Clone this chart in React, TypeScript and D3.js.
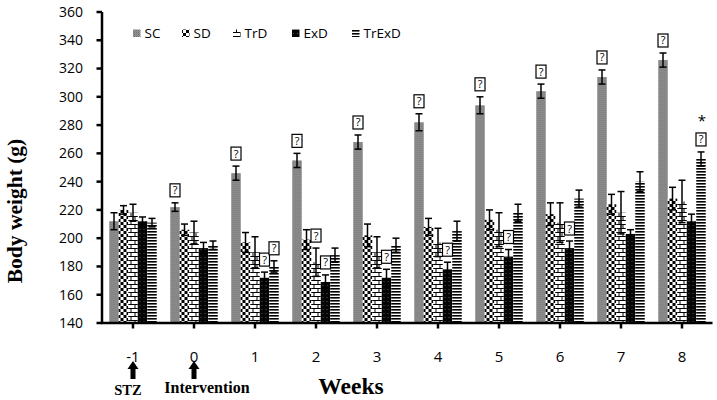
import React from "react";
import * as d3 from "d3";

const weeks = ["-1", "0", "1", "2", "3", "4", "5", "6", "7", "8"];
const seriesNames = ["SC", "SD", "TrD", "ExD", "TrExD"];

const SC = [212, 222, 246, 255, 268, 282, 294, 304, 314, 326];
const SC_err = [6, 3, 5, 5, 5, 6, 6, 5, 5, 5];
const SD = [220, 206, 197, 199, 202, 208, 213, 217, 224, 228];
const SD_err = [3, 4, 7, 7, 8, 6, 7, 8, 7, 8];
const TrD = [218, 204, 190, 183, 190, 197, 206, 211, 218, 226];
const TrD_err = [6, 8, 11, 10, 11, 10, 12, 14, 15, 15];
const ExD = [212, 193, 172, 169, 172, 178, 187, 193, 203, 212];
const ExD_err = [3, 4, 4, 5, 6, 5, 5, 5, 3, 5];
const TrExD = [211, 195, 180, 188, 195, 205, 218, 228, 240, 256];
const TrExD_err = [3, 3, 4, 5, 5, 7, 6, 6, 7, 5];

const yTicks = [140, 160, 180, 200, 220, 240, 260, 280, 300, 320, 340, 360];

// which bars carry a significance mark (boxed "?")
const sigMarks = [
  [],
  ["SC"],
  ["SC", "ExD", "TrExD"],
  ["SC", "TrD", "ExD"],
  ["SC", "ExD"],
  ["SC", "ExD"],
  ["SC", "ExD"],
  ["SC", "ExD"],
  ["SC"],
  ["SC", "TrExD"],
];
const starMarks = [{ week: "8", series: "TrExD" }];

const values: Record<string, number[]> = { SC, SD, TrD, ExD, TrExD };
const errors: Record<string, number[]> = {
  SC: SC_err,
  SD: SD_err,
  TrD: TrD_err,
  ExD: ExD_err,
  TrExD: TrExD_err,
};

const W = 717;
const H = 400;
const x = d3.scaleBand<string>().domain(weeks).range([102.5, 712.5]).padding(0);
const xs = d3
  .scaleBand<string>()
  .domain(seriesNames)
  .range([6.75, x.bandwidth() - 6.75]);
const y = d3.scaleLinear().domain([140, 360]).range([323, 12]);

const fills: Record<string, string> = {
  SC: "url(#pSC)",
  SD: "url(#pSD)",
  TrD: "url(#pTrD)",
  ExD: "url(#pExD)",
  TrExD: "url(#pTrExD)",
};

const sans = "'Open Sans', 'Liberation Sans', sans-serif";
const serif = "'Liberation Serif', 'DejaVu Serif', serif";

function Arrow({ cx }: { cx: number }) {
  const p = d3.path();
  p.moveTo(cx, 361);
  p.lineTo(cx + 5.5, 369);
  p.lineTo(cx + 2.5, 369);
  p.lineTo(cx + 2.5, 379);
  p.lineTo(cx - 2.5, 379);
  p.lineTo(cx - 2.5, 369);
  p.lineTo(cx - 5.5, 369);
  p.closePath();
  return <path d={p.toString()} fill="#000" />;
}

export default function App() {
  const legendItems = [
    { name: "SC", x: 133 },
    { name: "SD", x: 182 },
    { name: "TrD", x: 233 },
    { name: "ExD", x: 292 },
    { name: "TrExD", x: 352 },
  ];

  return (
    <svg
      width={W}
      height={H}
      style={{ position: "absolute", left: 0, top: 0, background: "#fff" }}
    >
      <defs>
        <pattern id="pSC" width="2" height="2" patternUnits="userSpaceOnUse">
          <rect width="2" height="2" fill="#9a9a9a" />
          <rect width="1" height="1" fill="#6e6e6e" />
          <rect x="1" y="1" width="1" height="1" fill="#7a7a7a" />
        </pattern>
        <pattern id="pSD" width="6" height="6" patternUnits="userSpaceOnUse">
          <rect width="6" height="6" fill="#fff" />
          <rect width="3" height="3" fill="#000" />
          <rect x="3" y="3" width="3" height="3" fill="#000" />
        </pattern>
        <pattern id="pTrD" width="8" height="8" patternUnits="userSpaceOnUse">
          <rect width="8" height="8" fill="#fff" />
          <rect y="0" width="8" height="1" fill="#000" />
          <rect y="4" width="8" height="1" fill="#000" />
          <rect x="0" y="0" width="1" height="4" fill="#000" />
          <rect x="4" y="4" width="1" height="4" fill="#000" />
        </pattern>
        <pattern id="pExD" width="4" height="4" patternUnits="userSpaceOnUse">
          <rect width="4" height="4" fill="#050505" />
          <rect x="1" y="1" width="1" height="1" fill="#555" />
        </pattern>
        <pattern id="pTrExD" width="3" height="3" patternUnits="userSpaceOnUse">
          <rect width="3" height="3" fill="#fff" />
          <rect width="3" height="1.6" fill="#000" />
        </pattern>
      </defs>

      {/* bars */}
      {weeks.map((w, i) => (
        <g key={w} transform={`translate(${x(w)},0)`}>
          {seriesNames.map((s) => (
            <rect
              key={s}
              x={xs(s)}
              y={y(values[s][i])}
              width={xs.bandwidth()}
              height={y(140) - y(values[s][i])}
              fill={fills[s]}
            />
          ))}
        </g>
      ))}

      {/* error bars */}
      {weeks.map((w, i) => (
        <g key={"e" + w}>
          {seriesNames.map((s) => {
            const cx = (x(w) as number) + (xs(s) as number) + xs.bandwidth() / 2;
            const v = values[s][i];
            const e = errors[s][i];
            return (
              <g key={s} stroke="#000" strokeWidth={1.5}>
                <line x1={cx} x2={cx} y1={y(v + e)} y2={y(v - e)} />
                <line x1={cx - 3.5} x2={cx + 3.5} y1={y(v + e)} y2={y(v + e)} />
                <line x1={cx - 3.5} x2={cx + 3.5} y1={y(v - e)} y2={y(v - e)} />
              </g>
            );
          })}
        </g>
      ))}

      {/* significance marks */}
      {weeks.map((w, i) => (
        <g key={"m" + w}>
          {sigMarks[i].map((s) => {
            const cx = (x(w) as number) + (xs(s) as number) + xs.bandwidth() / 2;
            const top = y(values[s][i] + errors[s][i]);
            const bottom = top - 6;
            return (
              <g key={s}>
                <rect
                  x={cx - 5}
                  y={bottom - 13}
                  width={10}
                  height={13}
                  fill="#fff"
                  stroke="#000"
                  strokeWidth={1.2}
                />
                <text
                  x={cx}
                  y={bottom - 2.5}
                  textAnchor="middle"
                  fontFamily={sans}
                  fontSize={11}
                  fill="#000"
                >
                  ?
                </text>
              </g>
            );
          })}
        </g>
      ))}
      {starMarks.map((m) => {
        const i = weeks.indexOf(m.week);
        const cx = (x(m.week) as number) + (xs(m.series) as number) + xs.bandwidth() / 2;
        const top = y(values[m.series][i] + errors[m.series][i]) - 6 - 13;
        return (
          <text
            key={m.week}
            x={cx + 1}
            y={top - 7}
            textAnchor="middle"
            fontFamily={sans}
            fontSize={15}
            fill="#000"
          >
            *
          </text>
        );
      })}

      {/* y axis */}
      <line x1={102} x2={102} y1={y(360)} y2={y(140) + 1} stroke="#000" strokeWidth={2.5} />
      {yTicks.map((t) => (
        <g key={t}>
          <line x1={96.5} x2={102} y1={y(t)} y2={y(t)} stroke="#000" strokeWidth={2.5} />
          <text
            x={83}
            y={y(t)}
            dy="0.35em"
            textAnchor="end"
            fontFamily={sans}
            fontSize={14}
            fill="#000"
          >
            {t}
          </text>
        </g>
      ))}

      {/* x axis */}
      <line x1={101} x2={712.5} y1={y(140)} y2={y(140)} stroke="#000" strokeWidth={2.5} />
      {weeks.map((w) => {
        const cx = (x(w) as number) + x.bandwidth() / 2;
        return (
          <g key={"t" + w}>
            <line x1={cx} x2={cx} y1={y(140)} y2={y(140) + 5.5} stroke="#000" strokeWidth={2.5} />
            <text
              x={cx}
              y={357}
              dy="0.35em"
              textAnchor="middle"
              fontFamily={sans}
              fontSize={15}
              fill="#000"
            >
              {w}
            </text>
          </g>
        );
      })}

      <Arrow cx={(x("-1") as number) + x.bandwidth() / 2} />
      <Arrow cx={(x("0") as number) + x.bandwidth() / 2} />
      <text x={128} y={395} textAnchor="middle" fontFamily={serif} fontWeight="bold" fontSize={14.5} fill="#000">
        STZ
      </text>
      <text x={207} y={393} textAnchor="middle" fontFamily={serif} fontWeight="bold" fontSize={16} fill="#000">
        Intervention
      </text>
      <text x={351} y={394} textAnchor="middle" fontFamily={serif} fontWeight="bold" fontSize={23.5} fill="#000">
        Weeks
      </text>

      <text
        transform="translate(22,211) rotate(-90)"
        textAnchor="middle"
        fontFamily={serif}
        fontWeight="bold"
        fontSize={21.5}
        fill="#000"
      >
        Body weight (g)
      </text>

      {/* legend */}
      {legendItems.map((l) => (
        <g key={l.name}>
          <rect x={l.x} y={29.5} width={7.5} height={7.5} fill={fills[l.name]} />
          <text
            x={l.x + 11.5}
            y={33.5}
            dy="0.35em"
            fontFamily={sans}
            fontSize={13.5}
            fill="#000"
          >
            {l.name}
          </text>
        </g>
      ))}
    </svg>
  );
}
